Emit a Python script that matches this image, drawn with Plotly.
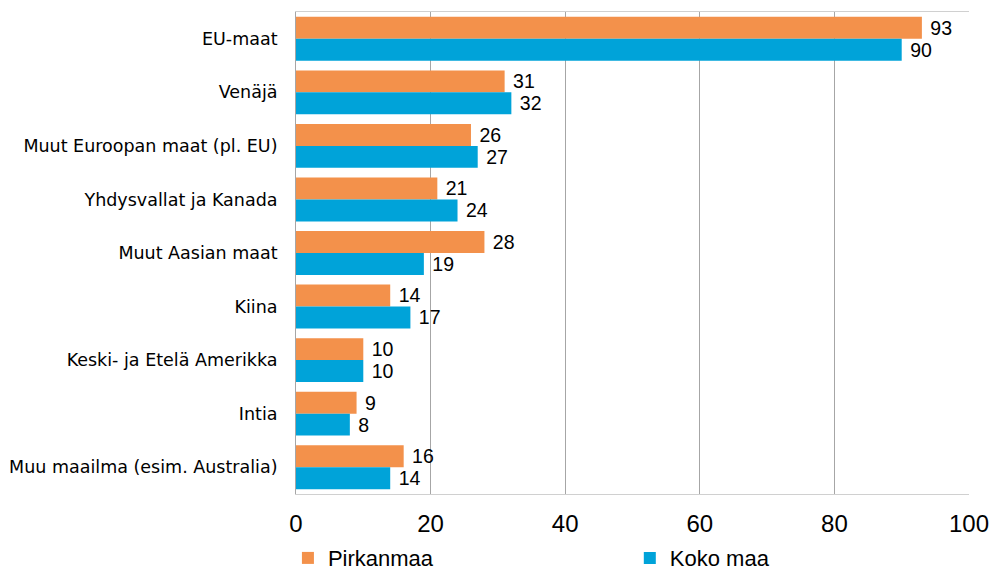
import plotly.graph_objects as go

categories = ["EU-maat", "Venäjä", "Muut Euroopan maat (pl. EU)", "Yhdysvallat ja Kanada",
              "Muut Aasian maat", "Kiina", "Keski- ja Etelä Amerikka", "Intia",
              "Muu maailma (esim. Australia)"]
pirkanmaa = [93, 31, 26, 21, 28, 14, 10, 9, 16]
koko_maa = [90, 32, 27, 24, 19, 17, 10, 8, 14]
x_ticks = [0, 20, 40, 60, 80, 100]

num_font = "Liberation Sans, Arial, sans-serif"

fig = go.Figure()
fig.add_trace(go.Bar(y=categories, x=pirkanmaa, orientation="h", name="Pirkanmaa",
                     marker=dict(color="#F3914B", line=dict(width=0)),
                     text=pirkanmaa, texttemplate="\u00a0%{x}", textposition="outside",
                     cliponaxis=False, legend="legend",
                     textfont=dict(family=num_font, size=24, color="#000")))
fig.add_trace(go.Bar(y=categories, x=koko_maa, orientation="h", name="Koko maa",
                     marker=dict(color="#00A3D9", line=dict(width=0)),
                     text=koko_maa, texttemplate="\u00a0%{x}", textposition="outside",
                     cliponaxis=False, legend="legend2",
                     textfont=dict(family=num_font, size=24, color="#000")))

legend_common = dict(orientation="h", y=-0.133, yanchor="middle", xanchor="left",
                     font=dict(family=num_font, size=22, color="#000"),
                     itemwidth=30, bgcolor="rgba(0,0,0,0)")

fig.update_layout(
    width=990, height=575,
    margin=dict(l=296, r=21, t=12, b=81, autoexpand=False),
    barmode="group", bargap=0.18, bargroupgap=0,
    plot_bgcolor="white", paper_bgcolor="white",
    showlegend=True,
    legend=dict(x=-0.012, **legend_common),
    legend2=dict(x=0.496, **legend_common),
    xaxis=dict(range=[0, 100], tickvals=x_ticks, showgrid=True, gridcolor="#A6A6A6",
               gridwidth=1, zeroline=False, showline=True, linecolor="#D0D0D0", mirror=True,
               tickfont=dict(family=num_font, size=24, color="#000"), ticks="", ticklen=0,
               ticklabelstandoff=8, fixedrange=True),
    yaxis=dict(autorange="reversed", showline=True, linecolor="#A6A6A6", mirror=False,
               tickfont=dict(family="DejaVu Sans, Verdana, sans-serif", size=17.5, color="#000"),
               ticks="", ticklabelstandoff=14),
)

fig.write_html("out.html", post_script="document.body.style.margin='0';",
               config={"displayModeBar": False})
